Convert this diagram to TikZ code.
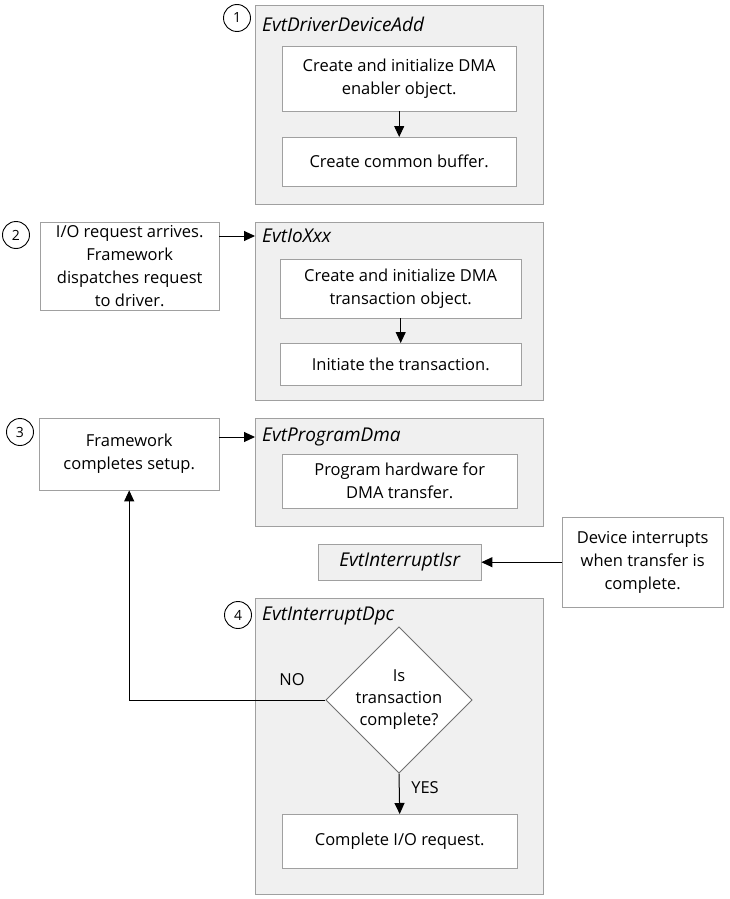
\documentclass[tikz,border=0pt]{standalone}
\usepackage{fontspec}
\setmainfont{Open Sans}
\usetikzlibrary{shapes.geometric,arrows.meta}
\definecolor{bord}{HTML}{A0A0A0}
\definecolor{dbord}{HTML}{707070}
\definecolor{grayfill}{HTML}{F0F0F0}
\tikzset{
  x=1pt,y=-1pt,
  txt/.style={font=\fontsize{16.5}{23}\selectfont, align=center},
  group/.style={draw=bord, fill=grayfill, anchor=north west, inner sep=0pt},
  inbox/.style={draw=bord, fill=white, anchor=north west, inner sep=0pt, txt},
  title/.style={anchor=west, font=\fontsize{19}{22}\selectfont\itshape, inner sep=0pt},
  num/.style={circle, draw=black, line width=0.9pt, minimum size=27pt, inner sep=0pt, font=\fontsize{14}{16}\selectfont},
  arr/.style={-{Triangle[length=11pt,width=10pt]}, line width=1pt},
  lbl/.style={font=\fontsize{16.5}{18}\selectfont, inner sep=0pt}
}
\begin{document}
\begin{tikzpicture}
\useasboundingbox[fill=white] (0,0) rectangle (729,899);
% group 1
\node[group, minimum width=288pt, minimum height=199pt] (g1) at (255,5) {};
\node[num] (c1) at (237,18) {1};
\node[title] (t1) at (262,24) {EvtDriverDeviceAdd};
\node[inbox, minimum width=234pt, minimum height=65pt] (b11) at (282,46) {Create and initialize DMA\\enabler object.};
\node[inbox, minimum width=234pt, minimum height=49pt] (b12) at (282,137) {Create common buffer.};
\draw[arr] (b11.south) -- (b12.north);
% group 2
\node[group, minimum width=288pt, minimum height=178pt] (g2) at (255,222) {};
\node[num] (c2) at (16,235) {2};
\node[title] (t2) at (262,236) {EvtIoXxx};
\node[inbox, minimum width=179pt, minimum height=88pt] (req) at (40,222) {I/O request arrives.\\Framework\\dispatches request\\to driver.};
\node[inbox, minimum width=241pt, minimum height=59pt] (b21) at (280,259) {Create and initialize DMA\\transaction object.};
\node[inbox, minimum width=241pt, minimum height=42pt] (b22) at (280,343) {Initiate the transaction.};
\draw[arr] (b21.south) -- (b22.north);
\draw[arr] (req.east |- t2.west) -- (g2.west |- t2.west);
% group 3
\node[group, minimum width=288pt, minimum height=108pt] (g3) at (255,418) {};
\node[num] (c3) at (20,432) {3};
\node[title] (t3) at (262,437) {EvtProgramDma};
\node[inbox, minimum width=180pt, minimum height=72pt] (fw) at (39,418) {Framework\\completes setup.};
\node[inbox, minimum width=235pt, minimum height=54pt] (b31) at (282,454) {Program hardware for\\DMA transfer.};
\draw[arr] (fw.east |- t3.west) -- (g3.west |- t3.west);
% ISR
\node[draw=bord, fill=grayfill, anchor=north west, inner sep=0pt, minimum width=163pt, minimum height=36pt, font=\fontsize{19}{22}\selectfont\itshape] (isr) at (318,544) {EvtInterruptIsr};
\node[inbox, minimum width=161pt, minimum height=90pt] (dev) at (562,517) {Device interrupts\\when transfer is\\complete.};
\draw[arr] (dev.west) -- (isr.east);
% group 4
\node[group, minimum width=288pt, minimum height=296pt] (g4) at (255,598) {};
\node[num] (c4) at (238,615) {4};
\node[title] (t4) at (262,616) {EvtInterruptDpc};
\node[diamond, draw=dbord, line width=0.8pt, fill=white, minimum width=144pt, minimum height=136pt, inner sep=0pt, txt, font=\fontsize{16.5}{22}\selectfont] (d) at (399,700) {Is\\transaction\\complete?};
\node[inbox, minimum width=235pt, minimum height=54pt] (done) at (282,814) {Complete I/O request.};
\draw[arr] (d.south) -- (done.north);
\draw[arr] (d.west) -| (fw.south);
\node[lbl] (no) at (292,680) {NO};
\node[lbl] (yes) at (425,788) {YES};
\end{tikzpicture}
\end{document}
